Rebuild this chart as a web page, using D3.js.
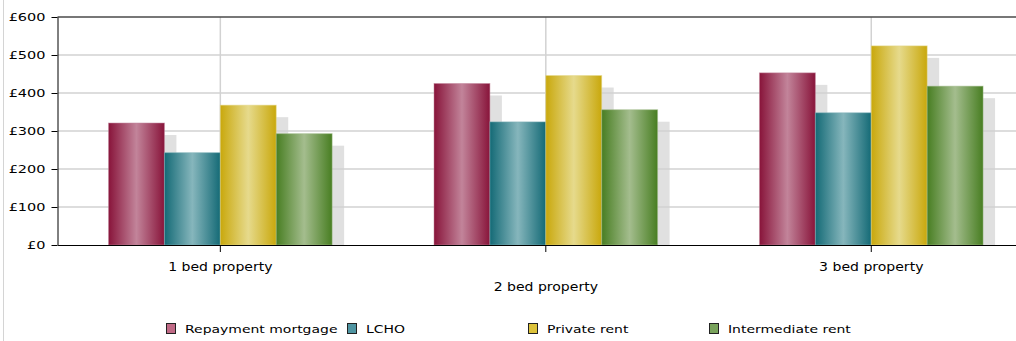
<!DOCTYPE html>
<html>
<head>
<meta charset="utf-8">
<script src="https://cdn.jsdelivr.net/npm/d3@7"></script>
<style>
  body { margin: 0; background: #fff; }
  svg { display: block; font-family: "DejaVu Sans", Verdana, sans-serif; }
</style>
</head>
<body>
<div id="chart"></div>
<script>
// data
const categories = ["1 bed property", "2 bed property", "3 bed property"]
const series = ["Repayment mortgage", "LCHO", "Private rent", "Intermediate rent"]
const mortgage = [321, 425, 453]
const lcho = [243, 324, 348]
const privateRent = [368, 446, 524]
const intermediate = [293, 356, 418]
const yTicks = [0, 100, 200, 300, 400, 500, 600]

const values = [mortgage, lcho, privateRent, intermediate]

// dark edge / light middle of each bar, plus legend swatch fill
const colours = [
    { dark: "#88143a", light: "#c2849a", key: "#c06a86" },
    { dark: "#146a76", light: "#86b6bc", key: "#4f95a2" },
    { dark: "#c9a80c", light: "#e6da8c", key: "#dcc23a" },
    { dark: "#487e22", light: "#a4bd8e", key: "#79a35c" }
]

const width = 1016, height = 341

const svg = d3.select("#chart").append("svg")
    .attr("width", width)
    .attr("height", height)

// the plot runs past the right edge of the window, like the original
const x0 = d3.scaleBand()
    .domain(categories)
    .range([57.6, 1034])

const groupW = x0.bandwidth() * 0.687
const x1 = d3.scaleBand()
    .domain(series)
    .range([0, groupW])

const y = d3.scaleLinear()
    .domain([0, 600])
    .range([245, 17])

const barX = (ci, si) => x0(categories[ci]) + (x0.bandwidth() - groupW) / 2 + x1(series[si])

// gradients
const defs = svg.append("defs")
colours.forEach((c, i) => {
    const g = defs.append("linearGradient")
        .attr("id", "grad" + i)
        .attr("x1", "0%").attr("x2", "100%")
        .attr("y1", "0%").attr("y2", "0%")
    g.append("stop").attr("offset", "0%").attr("stop-color", c.dark)
    g.append("stop").attr("offset", "50%").attr("stop-color", c.light)
    g.append("stop").attr("offset", "100%").attr("stop-color", c.dark)
})

defs.append("clipPath").attr("id", "plotClip")
    .append("rect")
    .attr("x", 57.5).attr("y", 17)
    .attr("width", 1000).attr("height", y(0) - 17)

// page border on the left
svg.append("line")
    .attr("x1", 3.5).attr("x2", 3.5)
    .attr("y1", 0).attr("y2", height)
    .attr("stroke", "#d4d4d4")

// flatten to one list of bars
const bars = []
values.forEach((vals, si) => {
    vals.forEach((v, ci) => {
        bars.push({ ci: ci, si: si, value: v })
    })
})

// drop shadows
const shadowOff = 12
svg.append("g")
    .attr("clip-path", "url(#plotClip)")
    .selectAll("rect")
    .data(bars)
    .enter().append("rect")
    .attr("x", d => barX(d.ci, d.si) + shadowOff)
    .attr("y", d => y(d.value) + shadowOff)
    .attr("width", x1.bandwidth())
    .attr("height", d => y(0) - y(d.value))
    .attr("fill", "#e0e0e0")

// grid lines
const grid = svg.append("g")
grid.selectAll(".hgrid")
    .data(yTicks.filter(d => d > 0 && d < 600))
    .enter().append("line")
    .attr("x1", 58).attr("x2", width)
    .attr("y1", d => y(d)).attr("y2", d => y(d))
    .attr("stroke", "#d2d2d2")
    .attr("stroke-width", 1.5)

grid.selectAll(".vgrid")
    .data(categories)
    .enter().append("line")
    .attr("x1", d => x0(d) + x0.bandwidth() / 2)
    .attr("x2", d => x0(d) + x0.bandwidth() / 2)
    .attr("y1", 17).attr("y2", y(0))
    .attr("stroke", "#d2d2d2")
    .attr("stroke-width", 1.5)

// bars
svg.append("g")
    .selectAll("rect")
    .data(bars)
    .enter().append("rect")
    .attr("x", d => barX(d.ci, d.si))
    .attr("y", d => y(d.value))
    .attr("width", x1.bandwidth())
    .attr("height", d => y(0) - y(d.value))
    .attr("fill", d => "url(#grad" + d.si + ")")
    .attr("stroke", d => colours[d.si].light)
    .attr("stroke-opacity", 0.5)
    .attr("stroke-width", 1)

// top frame
svg.append("line")
    .attr("x1", 57.5).attr("x2", width)
    .attr("y1", 17).attr("y2", 17)
    .attr("stroke", "#4a4a4a")
    .attr("stroke-width", 1.5)

// y axis
const tickStretch = 1.45
const yAxis = svg.append("g")
    .attr("transform", "translate(57.5,0)")
    .call(d3.axisLeft(y)
        .tickValues(yTicks)
        .tickFormat(d => "£" + d)
        .tickSize(6)
        .tickSizeOuter(0))
yAxis.selectAll("path, line").attr("stroke", "#000")
yAxis.selectAll("text")
    .attr("font-family", "DejaVu Sans, sans-serif")
    .attr("font-size", 10)
    .attr("fill", "#000")
    .attr("x", -12 / tickStretch)
    .attr("transform", `scale(${tickStretch},1)`)

// x axis
const labelStretch = 1.17
const xAxis = svg.append("g")
    .attr("transform", `translate(0,${y(0)})`)
    .call(d3.axisBottom(x0).tickSize(7).tickSizeOuter(0))
xAxis.select(".domain").attr("stroke", "#000").attr("stroke-width", 1.2)
xAxis.selectAll("line").attr("stroke", "#000")
xAxis.selectAll("text")
    .attr("font-family", "DejaVu Sans, sans-serif")
    .attr("font-size", 12)
    .attr("fill", "#000")
    .attr("dy", null)
    .attr("y", (d, i) => i % 2 === 1 ? 46 : 26)
    .attr("transform", `scale(${labelStretch},1)`)
// the scaled text needs its tick group to sit at x / stretch
xAxis.selectAll(".tick")
    .attr("transform", d => `translate(${(x0(d) + x0.bandwidth() / 2)},0)`)

// legend
const legendStart = 166, legendStep = 181
const legendStretch = 1.27
const legend = svg.append("g")
    .attr("transform", "translate(0,323)")
const items = legend.selectAll("g")
    .data(series)
    .enter().append("g")
    .attr("transform", (d, i) => `translate(${legendStart + i * legendStep},0)`)
items.append("rect")
    .attr("x", 0.5).attr("y", 0.5)
    .attr("width", 9).attr("height", 10)
    .attr("fill", (d, i) => colours[i].key)
    .attr("stroke", "#222")
items.append("text")
    .attr("x", 19 / legendStretch)
    .attr("y", 10.5)
    .attr("font-size", 11)
    .attr("fill", "#000")
    .attr("transform", `scale(${legendStretch},1)`)
    .text(d => d)
</script>
</body>
</html>
